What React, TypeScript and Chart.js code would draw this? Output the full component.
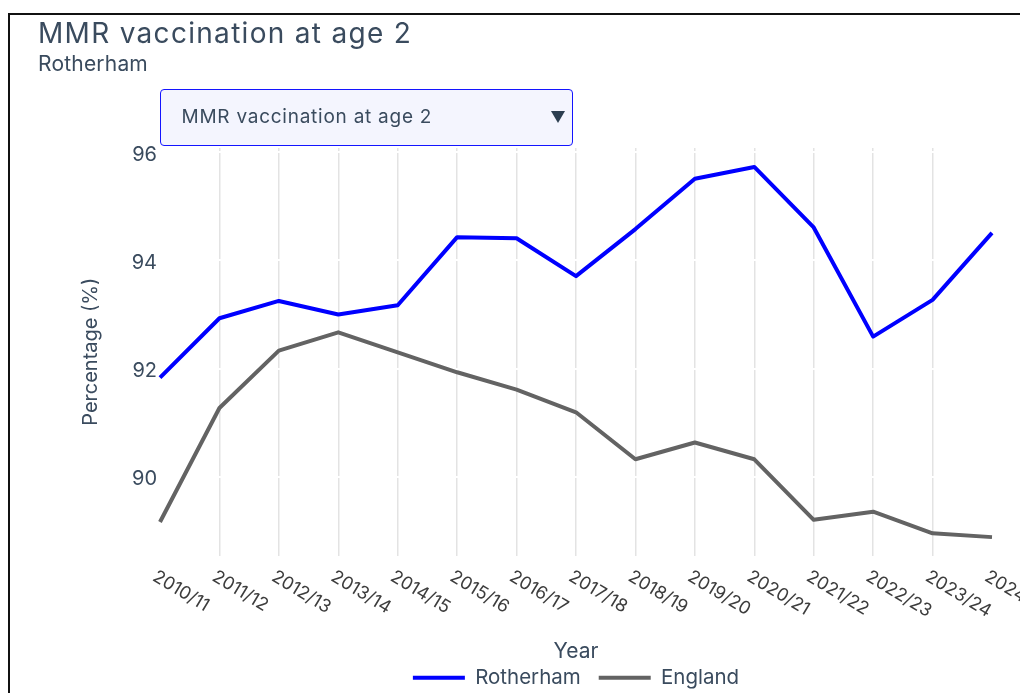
import React, { useEffect, useRef } from "react";
import { Chart, registerables } from "chart.js";

Chart.register(...registerables);

const FONT = "Inter, 'Noto Sans', sans-serif";
const TEXT = "#3a4b5e";

const categories = [
  "2010/11", "2011/12", "2012/13", "2013/14", "2014/15", "2015/16", "2016/17", "2017/18",
  "2018/19", "2019/20", "2020/21", "2021/22", "2022/23", "2023/24", "2024/25",
];
const rotherham = [91.83, 92.93, 93.25, 93.0, 93.17, 94.43, 94.41, 93.71, 94.58, 95.51, 95.73, 94.61, 92.59, 93.27, 94.51];
const england = [89.16, 91.27, 92.33, 92.67, 92.3, 91.93, 91.61, 91.19, 90.32, 90.63, 90.32, 89.2, 89.35, 88.95, 88.88];
const yTicks = [90, 92, 94, 96];
const yMin = 88.54;
const yMax = 96.08;

const xLabelPlugin = {
  id: "rotatedXLabels",
  afterDraw(chart: any) {
    const { ctx, chartArea, scales } = chart;
    const x = scales.x;
    ctx.save();
    ctx.font = `18px ${FONT}`;
    ctx.fillStyle = "#3d3d3d";
    ctx.textAlign = "left";
    ctx.textBaseline = "top";
    categories.forEach((c, i) => {
      const px = x.getPixelForValue(i);
      ctx.save();
      ctx.translate(px - 1, chartArea.bottom + 12);
      ctx.rotate((31 * Math.PI) / 180);
      ctx.fillText(c, 0, 0);
      ctx.restore();
    });
    ctx.restore();
  },
};

function LineChart() {
  const ref = useRef<HTMLCanvasElement>(null);
  useEffect(() => {
    if (!ref.current) return;
    const last = categories.length - 1;
    const chart = new Chart(ref.current, {
      type: "line",
      data: {
        labels: categories,
        datasets: [
          {
            label: "Rotherham",
            data: rotherham,
            borderColor: "#0000ff",
            backgroundColor: "#0000ff",
            borderWidth: 4,
            pointRadius: 0,
            tension: 0,
            borderJoinStyle: "round",
          },
          {
            label: "England",
            data: england,
            borderColor: "#636363",
            backgroundColor: "#636363",
            borderWidth: 4,
            pointRadius: 0,
            tension: 0,
            borderJoinStyle: "round",
          },
        ],
      },
      options: {
        responsive: false,
        maintainAspectRatio: false,
        animation: false,
        layout: { padding: { left: 0, right: 28, top: 148, bottom: 0 } },
        plugins: {
          tooltip: { enabled: false },
          legend: {
            position: "bottom",
            fullSize: false,
            labels: {
              boxWidth: 52,
              boxHeight: 4,
              padding: 18,
              color: TEXT,
              font: { family: FONT, size: 20.5 },
              generateLabels: (ch: any) =>
                ch.data.datasets.map((ds: any, i: number) => ({
                  text: ds.label,
                  fillStyle: ds.borderColor,
                  strokeStyle: ds.borderColor,
                  lineWidth: 0,
                  hidden: false,
                  datasetIndex: i,
                  fontColor: TEXT,
                })),
            },
          },
        },
        scales: {
          x: {
            type: "category",
            offset: false,
            grid: {
              color: (c: any) => (c.index === 0 || c.index === last ? "rgba(0,0,0,0)" : "#e3e3e3"),
              lineWidth: 1.5,
              drawTicks: false,
            },
            border: { display: false },
            ticks: { display: false },
            title: {
              display: true,
              text: "Year",
              color: TEXT,
              font: { family: FONT, size: 21 },
              padding: { top: 0, bottom: -14.6 },
            },
            afterFit: (s: any) => {
              s.height = 94;
            },
          },
          y: {
            min: yMin,
            max: yMax,
            afterBuildTicks: (s: any) => {
              s.ticks = yTicks.map((v) => ({ value: v }));
            },
            grid: { color: "#ffffff", lineWidth: 2, drawTicks: false },
            border: { display: false },
            ticks: {
              padding: 3,
              labelOffset: 2.5,
              color: TEXT,
              font: { family: FONT, size: 20 },
              callback: (v: any) => String(v),
            },
            title: {
              display: true,
              text: "Percentage (%)",
              color: TEXT,
              font: { family: FONT, size: 20 },
              padding: { top: 79, bottom: 0 },
            },
            afterFit: (s: any) => {
              s.width = 160;
            },
          },
        },
      },
      plugins: [xLabelPlugin],
    } as any);
    return () => chart.destroy();
  }, []);
  return (
    <canvas
      ref={ref}
      width={1020}
      height={698}
      style={{ position: "absolute", left: 0, top: 0, width: 1020, height: 698 }}
    />
  );
}

export default function App() {
  return (
    <div style={{ position: "fixed", inset: 0, overflow: "hidden", background: "#fff", fontFamily: FONT }}>
      <LineChart />
      <div
        style={{
          position: "absolute",
          left: 8,
          top: 13,
          width: 1200,
          height: 900,
          borderLeft: "2px solid #111",
          borderTop: "2px solid #111",
          pointerEvents: "none",
        }}
      />
      <div
        style={{
          position: "absolute",
          left: 38,
          top: 19,
          fontSize: 28,
          lineHeight: "28px",
          letterSpacing: 1.3,
          color: TEXT,
          whiteSpace: "nowrap",
        }}
      >
        MMR vaccination at age 2
      </div>
      <div
        style={{
          position: "absolute",
          left: 38,
          top: 53,
          fontSize: 21,
          lineHeight: "21px",
          letterSpacing: 0.2,
          color: TEXT,
          whiteSpace: "nowrap",
        }}
      >
        Rotherham
      </div>
      <div
        style={{
          position: "absolute",
          left: 160,
          top: 89,
          width: 413,
          height: 57,
          boxSizing: "border-box",
          border: "1.5px solid #1414ff",
          borderRadius: 4,
          background: "#f4f5fe",
        }}
      >
        <div
          style={{
            position: "absolute",
            left: 20.5,
            top: 17,
            fontSize: 19,
            lineHeight: "19px",
            letterSpacing: 0.75,
            color: TEXT,
            whiteSpace: "nowrap",
          }}
        >
          MMR vaccination at age 2
        </div>
        <div
          style={{
            position: "absolute",
            left: 390,
            top: 21,
            width: 0,
            height: 0,
            borderLeft: "7px solid transparent",
            borderRight: "7px solid transparent",
            borderTop: "12px solid #2c3e50",
          }}
        />
      </div>
    </div>
  );
}
